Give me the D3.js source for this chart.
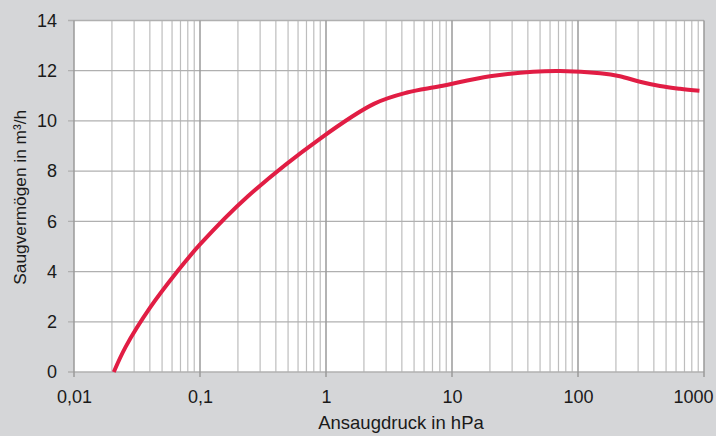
<!DOCTYPE html>
<html><head><meta charset="utf-8">
<script src="https://cdn.jsdelivr.net/npm/d3@7"></script>
<style>
html,body{margin:0;padding:0;background:#d5d6d8;}
svg{display:block;}
text{font-family:"Liberation Sans",Arial,sans-serif;fill:#1a1a1a;}
</style></head>
<body>
<svg id="c" width="716" height="436"></svg>
<script>
// Data
const pressure = [0.0207, 0.0257, 0.04, 0.066, 0.1, 0.24, 0.9, 2.4, 4.4, 8, 20, 44, 72, 150, 215, 310, 447, 645, 920];
const speed    = [0.0,    1.0,    2.55, 4.0,   5.08, 7.0, 9.3, 10.68, 11.13, 11.38, 11.78, 11.96, 11.99, 11.9, 11.78, 11.56, 11.39, 11.28, 11.2];
const xTickValues = [0.01, 0.1, 1, 10, 100, 1000];
const xTickLabels = ["0,01", "0,1", "1", "10", "100", "1000"];
const yTickValues = [0, 2, 4, 6, 8, 10, 12, 14];
const xTitle = "Ansaugdruck in hPa";
const yTitle = "Saugvermögen in m³/h";

const svg = d3.select("#c");
const m = {l:74, r:12, t:20.5, b:64};
const W = 716, H = 436;
const x = d3.scaleLog().domain([0.01, 1000]).range([m.l, W - m.r]);
const y = d3.scaleLinear().domain([0, 14]).range([H - m.b, m.t]);

// plot background
svg.append("rect").attr("x", x(0.01)).attr("y", y(14))
  .attr("width", x(1000) - x(0.01)).attr("height", y(0) - y(14)).attr("fill", "#fff");

// minor vertical grid
const minor = [];
for (let d = 0.01; d < 1000; d *= 10) for (let k = 2; k <= 9; k++) minor.push(d * k);
svg.append("g").selectAll("line").data(minor).join("line")
  .attr("x1", d => x(d)).attr("x2", d => x(d)).attr("y1", y(14)).attr("y2", y(0))
  .attr("stroke", "#bdbdbd").attr("stroke-width", 1.2);

// horizontal grid
svg.append("g").selectAll("line").data(yTickValues).join("line")
  .attr("x1", x(0.01) - 6).attr("x2", x(1000)).attr("y1", d => y(d)).attr("y2", d => y(d))
  .attr("stroke", "#b0b0b0").attr("stroke-width", 1.3);

// major vertical grid
svg.append("g").selectAll("line").data(xTickValues).join("line")
  .attr("x1", d => x(d)).attr("x2", d => x(d)).attr("y1", y(14)).attr("y2", y(0) + 5)
  .attr("stroke", "#9a9a9a").attr("stroke-width", 1.5);

// axes (labels only, via d3 axes)
const xAxis = d3.axisBottom(x).tickValues(xTickValues)
  .tickFormat((d, i) => xTickLabels[i]).tickSize(0).tickPadding(18);
const gx = svg.append("g").attr("transform", `translate(0,${y(0)})`).call(xAxis);
gx.select(".domain").remove();
gx.selectAll("text").style("font-size", "18px").attr("fill", "#1a1a1a");
gx.selectAll(".tick").filter(d => d === 1000).select("text")
  .attr("text-anchor", "end").attr("dx", 9);

const yAxis = d3.axisLeft(y).tickValues(yTickValues).tickFormat(d3.format("d"))
  .tickSize(0).tickPadding(17);
const gy = svg.append("g").attr("transform", `translate(${x(0.01)},0)`).call(yAxis);
gy.select(".domain").remove();
gy.selectAll("text").style("font-size", "18px").attr("fill", "#1a1a1a");

// curve
const line = d3.line().x((d, i) => x(pressure[i])).y((d, i) => y(speed[i]))
  .curve(d3.curveCatmullRom.alpha(0.5));
svg.append("path").datum(speed).attr("d", line)
  .attr("fill", "none").attr("stroke", "#e11d44").attr("stroke-width", 4)
  .attr("stroke-linecap", "butt").attr("stroke-linejoin", "round");

// titles
svg.append("text").attr("x", (x(0.01) + x(1000)) / 2 + 12).attr("y", 429)
  .attr("text-anchor", "middle").style("font-size", "18.5px").text(xTitle);
svg.append("text").attr("transform", `translate(26,${y(7) + 1}) rotate(-90)`)
  .attr("text-anchor", "middle").style("font-size", "17.3px").text(yTitle);
</script>
</body></html>
